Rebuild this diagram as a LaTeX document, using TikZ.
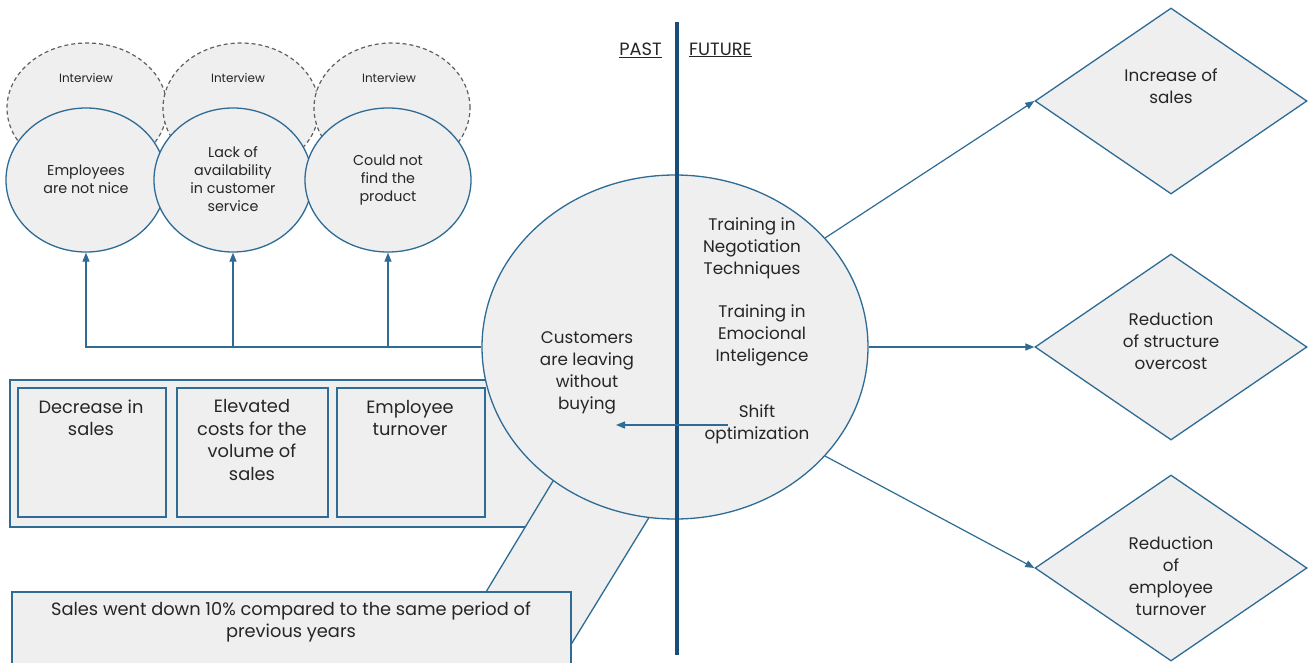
\documentclass[tikz,border=0pt]{standalone}
\usepackage{fontspec}
\setmainfont{Poppins}
\usetikzlibrary{shapes.geometric,arrows.meta}
\definecolor{edgec}{HTML}{2E6B95}
\definecolor{axisc}{HTML}{1A4E7A}
\definecolor{fillg}{HTML}{EFEFEF}
\definecolor{txtc}{HTML}{262626}
\begin{document}
\begin{tikzpicture}[x=1pt,y=-1pt,
  shapebox/.style={draw=edgec,fill=fillg,line width=1.3pt},
  oval/.style={shapebox,ellipse,inner sep=0pt},
  dashoval/.style={ellipse,draw=gray!75!black,fill=fillg,dash pattern=on 4pt off 3pt,line width=1.2pt,inner sep=0pt},
  rbox/.style={shapebox,rectangle,inner sep=0pt},
  dia/.style={shapebox,diamond,inner sep=0pt,minimum width=272pt,minimum height=186pt},
  conn/.style={draw=edgec,line width=1.2pt,-{Triangle[length=9pt,width=7pt]}},
  lbl/.style={text=txtc,align=center,inner sep=0pt},
  big/.style={lbl,font=\fontsize{16.8}{22}\selectfont},
  boxt/.style={lbl,font=\fontsize{17.8}{22.4}\selectfont},
  mid/.style={lbl,font=\fontsize{14.3}{18}\selectfont},
  tiny/.style={lbl,font=\fontsize{12}{14}\selectfont}]
\useasboundingbox (0,0) rectangle (1310,662);
\fill[white] (0,0) rectangle (1310,662);
% interview ellipses
\node[dashoval,minimum width=160pt,minimum height=130pt] (i1) at (87,108) {};
\node[dashoval,minimum width=156pt,minimum height=130pt] (i2) at (241,108) {};
\node[dashoval,minimum width=156pt,minimum height=130pt] (i3) at (392,108) {};
\node[tiny] (ti1) at (86,78) {Interview};
\node[tiny] (ti2) at (238,78) {Interview};
\node[tiny] (ti3) at (389,78) {Interview};
% cause ellipses
\node[oval,minimum width=160pt,minimum height=144pt] (e1) at (86,180) {};
\node[oval,minimum width=158pt,minimum height=144pt] (e2) at (233,180) {};
\node[oval,minimum width=166pt,minimum height=144pt] (e3) at (388,180) {};
\node[mid] (te1) at (86,179) {Employees\\are not nice};
\node[mid] (te2) at (233,179) {Lack of\\availability\\in customer\\service};
\node[mid] (te3) at (388,180) {Could not\\find the\\product};
% effects group
\node[rbox,minimum width=550pt,minimum height=147pt] (outer) at (285,453.5) {};
\node[rbox,minimum width=148pt,minimum height=129pt] (b1) at (92,452.5) {};
\node[rbox,minimum width=151pt,minimum height=129pt] (b2) at (252.5,452.5) {};
\node[rbox,minimum width=148pt,minimum height=129pt] (b3) at (411,452.5) {};
\node[boxt] (tb1) at (91,418) {Decrease in\\sales};
\node[boxt] (tb2) at (252,440) {Elevated\\costs for the\\volume of\\sales};
\node[boxt] (tb3) at (410,418) {Employee\\turnover};
% callout wedge and note
\draw[shapebox] (486,592) -- (585,428) -- (683,462) -- (572,643) -- cycle;
\node[rbox,minimum width=559pt,minimum height=90pt] (note) at (291.5,637) {};
\node[boxt] (tn) at (291,622) {Sales went down 10\% compared to the same period of\\previous years};
% central ellipse
\node[oval,minimum width=386pt,minimum height=344pt] (core) at (675,347) {};
\node[big] (tc) at (587,373) {Customers\\are leaving\\without\\buying};
\node[big] (tf1) at (752,248) {Training in\\Negotiation\\Techniques};
\node[big] (tf2) at (762,335) {Training in\\Emocional\\Inteligence};
\node[big] (tf3) at (757,424) {Shift\\optimization};
% axis
\coordinate (ax1) at (677,22);
\coordinate (ax2) at (677,655);
\draw[draw=axisc,line width=3.2pt] (ax1) -- (ax2);
\node[boxt,anchor=east] (past) at (662,50) {\underline{PAST}};
\node[boxt,anchor=west] (fut) at (689,50) {\underline{FUTURE}};
% shift arrow
\coordinate (s1) at (728,425);
\coordinate (s2) at (616,425);
\draw[conn] (s1) -- (s2);
% tree arrows
\draw[conn] (core.west) -| (e1.south);
\draw[conn] (core.west -| e2.south) -- (e2.south);
\draw[conn] (core.west -| e3.south) -- (e3.south);
% diamonds
\node[dia] (d1) at (1171,101) {};
\node[dia] (d2) at (1171,347) {};
\node[dia] (d3) at (1171,568) {};
\node[big] (td1) at (1171,86) {Increase of\\sales};
\node[big] (td2) at (1171,341) {Reduction\\of structure\\overcost};
\node[big] (td3) at (1171,576) {Reduction\\of\\employee\\turnover};
\draw[conn] (core.36) -- (d1.west);
\draw[conn] (core.east) -- (d2.west);
\draw[conn] (core.-36) -- (d3.west);
\end{tikzpicture}
\end{document}
